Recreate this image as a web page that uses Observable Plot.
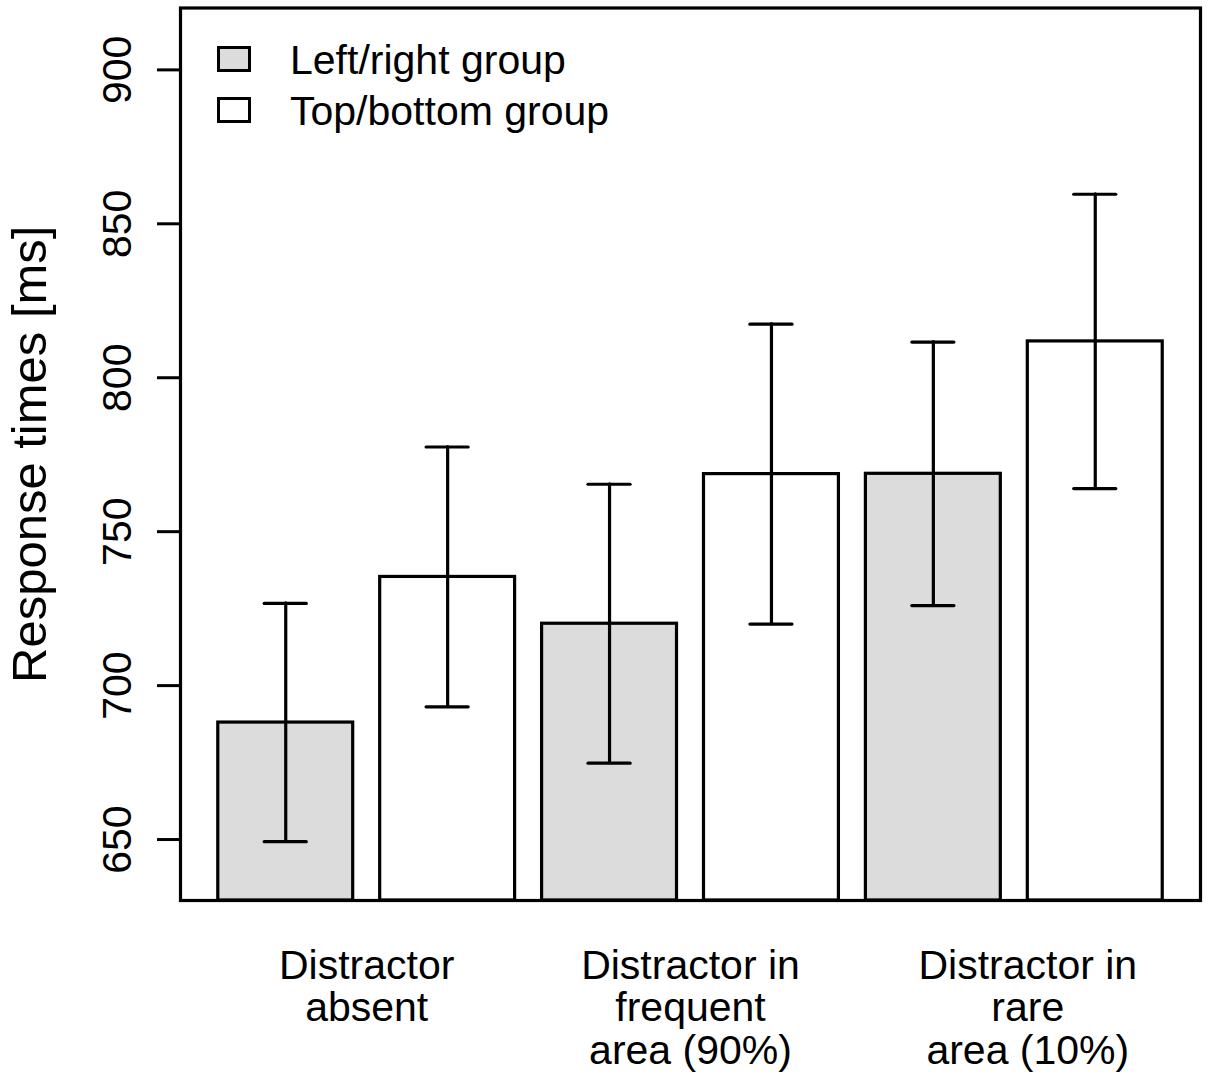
<!DOCTYPE html>
<html>
<head>
<meta charset="utf-8">
<script src="https://cdn.jsdelivr.net/npm/d3@7"></script>
<script src="https://cdn.jsdelivr.net/npm/@observablehq/plot@0.6"></script>
<style>
  html, body { margin: 0; padding: 0; background: #fff; }
  #wrap { position: relative; width: 1210px; height: 1080px; font-family: "Liberation Sans", Arial, sans-serif; }
  #wrap svg { display: block; }
  .leg-box { position: absolute; width: 34px; height: 26px; box-sizing: border-box; border: 3px solid #000; }
  .leg-text { position: absolute; font-size: 41px; line-height: 41px; white-space: nowrap; color: #000; }
</style>
</head>
<body>
<div id="wrap"></div>
<script>
// ---- data ----
const conditions = ["Distractor\nabsent", "Distractor in\nfrequent\narea (90%)", "Distractor in\nrare\narea (10%)"];
const conditionLabelAt = [1.3, 3.7, 6.2];   // tick positions of the condition labels (bar units)
const groups = ["Left/right group", "Top/bottom group"];
const leftRightMeans = [688.0, 720.1, 768.8];
const leftRightErrors = [38.7, 45.3, 42.8];
const topBottomMeans = [735.3, 768.7, 811.8];
const topBottomErrors = [42.2, 48.7, 47.8];
const groupColors = ["#dcdcdc", "#ffffff"];
const yTicks = [650, 700, 750, 800, 850, 900];
const yDomain = [630.2, 920.1];

// ---- layout like R barplot(beside = TRUE): bar width 1, space 0.2 ----
const barWidth = 1, barSpace = 0.2, capHalf = 0.156;
const series = [[leftRightMeans, leftRightErrors], [topBottomMeans, topBottomErrors]];
const rows = [];
conditions.forEach((c, i) => {
  series.forEach(([m, e], j) => {
    const k = i * series.length + j;
    const left = barSpace + k * (barWidth + barSpace);
    rows.push({condition: c, group: groups[j], mean: m[i], err: e[i],
               x1: left, x2: left + barWidth, xc: left + barWidth / 2});
  });
});
const labelByPos = new Map(conditionLabelAt.map((p, i) => [p, conditions[i]]));
const xmin = rows[0].x1, xmax = rows[rows.length - 1].x2;
const pad = 0.04 * (xmax - xmin);

const font = "'Liberation Sans', Arial, sans-serif";

const chart = Plot.plot({
  width: 1210,
  height: 1080,
  marginLeft: 180,
  marginRight: 10,
  marginTop: 7.5,
  marginBottom: 180,
  style: {fontFamily: font, fontSize: "41px", color: "#000", background: "#fff"},
  x: {type: "linear", domain: [xmin - pad, xmax + pad], axis: null},
  y: {domain: yDomain, axis: null},
  color: {domain: groups, range: groupColors},
  marks: [
    Plot.rect(rows, {x1: "x1", x2: "x2", y1: () => yDomain[0], y2: "mean", fill: "group",
                     stroke: "#000", strokeWidth: 3.2}),
    Plot.ruleX(rows, {x: "xc", y1: d => d.mean - d.err, y2: d => d.mean + d.err,
                      stroke: "#000", strokeWidth: 3.2, strokeLinecap: "round"}),
    Plot.ruleY(rows, {y: d => d.mean + d.err, x1: d => d.xc - capHalf, x2: d => d.xc + capHalf,
                      stroke: "#000", strokeWidth: 3.2, strokeLinecap: "round"}),
    Plot.ruleY(rows, {y: d => d.mean - d.err, x1: d => d.xc - capHalf, x2: d => d.xc + capHalf,
                      stroke: "#000", strokeWidth: 3.2, strokeLinecap: "round"}),
    Plot.frame({stroke: "#000", strokeWidth: 3.2}),
    Plot.axisY(yTicks, {anchor: "left", tickSize: 23, tickPadding: 27, tickRotate: -90,
                        strokeWidth: 3, fontSize: 41, label: null, tickFormat: d => String(d)}),
    Plot.axisX(conditionLabelAt, {anchor: "bottom", tickSize: 0, tickPadding: 48, lineHeight: 1.04,
                          fontSize: 41, label: null, tickFormat: d => labelByPos.get(d)}),
    Plot.text(["Response times [ms]"], {frameAnchor: "left", rotate: -90, lineAnchor: "bottom",
                                         textAnchor: "middle", dx: -135, fontSize: 49, fill: "#000"})
  ]
});

const wrap = document.getElementById("wrap");
wrap.appendChild(chart);

// legend (inside the plot, top-left, as in the original)
groups.forEach((g, i) => {
  const box = document.createElement("div");
  box.className = "leg-box";
  box.style.left = "217px";
  box.style.top = (46 + i * 51) + "px";
  box.style.background = groupColors[i];
  wrap.appendChild(box);
  const t = document.createElement("div");
  t.className = "leg-text";
  t.style.left = "290px";
  t.style.top = (39.5 + i * 51) + "px";
  t.textContent = g;
  wrap.appendChild(t);
});
</script>
</body>
</html>
